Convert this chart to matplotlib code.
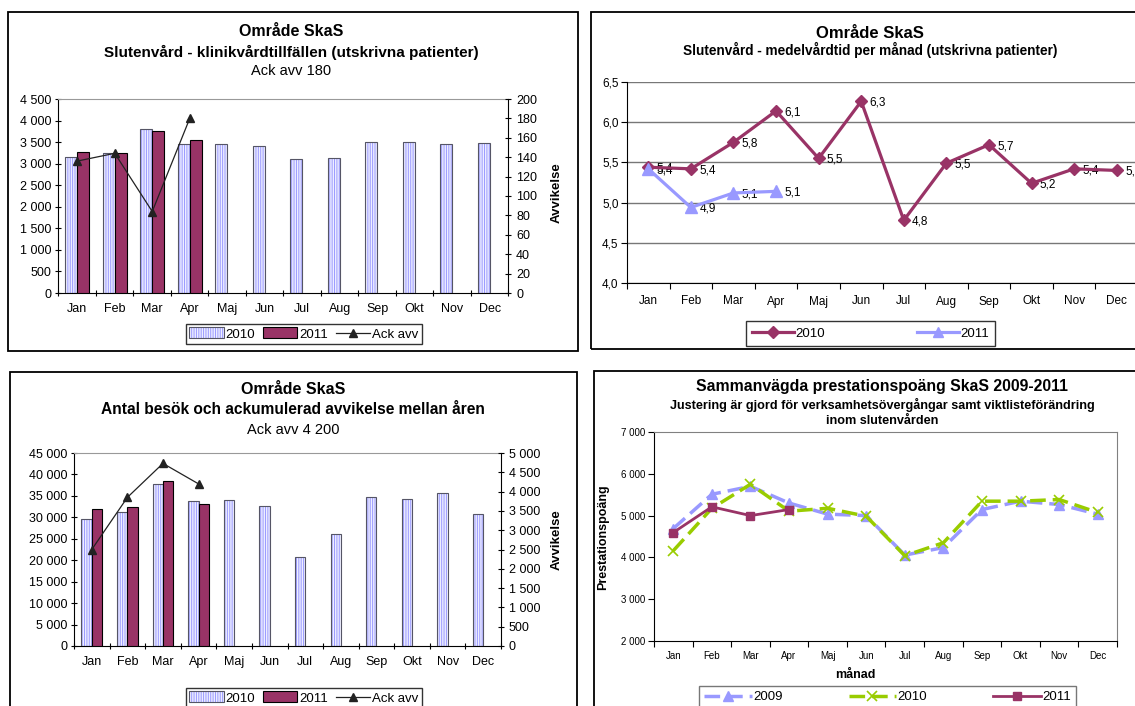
import numpy as np
import matplotlib
matplotlib.use("Agg")
import matplotlib.pyplot as plt
from matplotlib.patches import Patch, Rectangle
from matplotlib.lines import Line2D
from matplotlib.legend_handler import HandlerTuple

plt.rcParams['font.family'] = ['Liberation Sans', 'DejaVu Sans']
plt.rcParams['hatch.linewidth'] = 0.7

months = ["Jan", "Feb", "Mar", "Apr", "Maj", "Jun", "Jul", "Aug", "Sep", "Okt", "Nov", "Dec"]

# Klinikvårdtillfällen (utskrivna patienter)
vt_2010 = [3145, 3250, 3815, 3445, 3445, 3400, 3105, 3120, 3505, 3505, 3460, 3480]
vt_2011 = [3275, 3250, 3755, 3545]
vt_ack = [136, 144, 84, 180]

# Medelvårdtid per månad
mvt_2010 = [5.44, 5.42, 5.75, 6.14, 5.55, 6.26, 4.78, 5.49, 5.72, 5.24, 5.42, 5.40]
mvt_2011 = [5.42, 4.94, 5.12, 5.14]

# Antal besök
bes_2010 = [29650, 31250, 37800, 33750, 33950, 32650, 20850, 26150, 34700, 34250, 35750, 30800]
bes_2011 = [32000, 32500, 38550, 33050]
bes_ack = [2500, 3850, 4730, 4200]

# Sammanvägda prestationspoäng
pp_2009 = [4690, 5510, 5700, 5300, 5035, 5000, 4055, 4235, 5145, 5345, 5265, 5035]
pp_2010 = [4160, 5175, 5750, 5105, 5175, 4985, 4040, 4350, 5345, 5345, 5385, 5075]
pp_2011 = [4595, 5210, 5000, 5145]

W, H = 1135, 706
LAV = "#9999FF"
BARFACE = "#EEEEFF"
MAR = "#993366"
GRN = "#99CC00"
HATCH = "|||||||"

fig = plt.figure(figsize=(W / 100, H / 100), dpi=100)
fig.patch.set_facecolor("white")


def ax_px(l, t, r, b):
    return fig.add_axes([l / W, 1 - b / H, (r - l) / W, (b - t) / H])


def ftext(x, y, s, **kw):
    kw.setdefault("ha", "center")
    kw.setdefault("va", "center")
    fig.text(x / W, 1 - y / H, s, **kw)


def frame(l, t, r, b):
    fig.add_artist(Rectangle((l / W, 1 - b / H), (r - l) / W, (b - t) / H,
                             transform=fig.transFigure, fill=False,
                             edgecolor="black", lw=1.3))


def space_thousands(v):
    return f"{v:,.0f}".replace(",", " ")


def setup_cat_axis(ax, fs, pad, tick_dir="out"):
    x = np.arange(len(months))
    ax.set_xlim(-0.5, len(months) - 0.5)
    ax.set_xticks(x, months)
    ax.tick_params(axis="x", which="major", length=0, pad=pad, labelsize=fs)
    ax.set_xticks(np.arange(-0.5, len(months), 1), minor=True)
    ax.tick_params(axis="x", which="minor", length=4, direction=tick_dir, width=0.8)


def bar_panel(ax, v2010, v2011, ack, width, ymax, ystep, rmax, rstep, fs):
    x = np.arange(len(months))
    x11 = np.arange(len(v2011))
    ax.bar(x - width / 2, v2010, width, facecolor=BARFACE, edgecolor=LAV,
           hatch=HATCH, linewidth=0, zorder=2)
    ax.bar(x - width / 2, v2010, width, fill=False, edgecolor="#555566",
           linewidth=0.8, zorder=3)
    ax.bar(x11 + width / 2, v2011, width, color=MAR, edgecolor="black",
           linewidth=0.8, zorder=3)
    ax.set_ylim(0, ymax)
    yt = np.arange(0, ymax + 1, ystep)
    ax.set_yticks(yt, [space_thousands(v) for v in yt])
    ax.tick_params(axis="y", length=4, direction="inout", labelsize=fs, pad=3, width=0.8)
    for s in ("left", "bottom"):
        ax.spines[s].set_color("black")
    ax.spines["top"].set_color("#999999")
    ax.spines["right"].set_visible(False)
    setup_cat_axis(ax, fs, 7, tick_dir="inout")

    axr = ax.twinx()
    axr.set_ylim(0, rmax)
    rt = np.arange(0, rmax + 1, rstep)
    axr.set_yticks(rt, [space_thousands(v) for v in rt])
    axr.tick_params(axis="y", length=5, direction="inout", labelsize=fs, pad=3, width=0.8)
    for s in ("left", "top", "bottom"):
        axr.spines[s].set_visible(False)
    axr.spines["right"].set_color("black")
    axr.plot(x11, ack, color="#222222", lw=0.9, marker="^", ms=6, mfc="#222222",
             mec="#222222", zorder=5)
    return axr


def bar_legend(cx, cy):
    h10 = (Patch(facecolor=BARFACE, edgecolor=LAV, hatch=HATCH, lw=0),
           Patch(fill=False, edgecolor="#555566", lw=0.8))
    h11 = Patch(facecolor=MAR, edgecolor="black", lw=0.8)
    hack = Line2D([], [], color="#222222", lw=0.9, marker="^", ms=6)
    leg = fig.legend([h10, h11, hack], ["2010", "2011", "Ack avv"], loc="center",
                     bbox_to_anchor=(cx / W, 1 - cy / H), ncol=3, frameon=True,
                     fancybox=False, edgecolor="black", fontsize=9.5,
                     handlelength=2.6, handleheight=0.9, handletextpad=0.15,
                     columnspacing=0.6, borderpad=0.25,
                     handler_map={tuple: HandlerTuple(ndivide=1)})
    leg.get_frame().set_linewidth(1.0)


# ---- Panel 1: klinikvårdtillfällen ----
frame(8, 12, 578, 351)
ftext(291, 32, "Område SkaS", fontsize=11.5, fontweight="bold")
ftext(291, 52, "Slutenvård - klinikvårdtillfällen (utskrivna patienter)", fontsize=11, fontweight="bold")
ftext(291, 71, "Ack avv 180", fontsize=10.5)
ax1 = ax_px(58.5, 99, 508.5, 293)
bar_panel(ax1, vt_2010, vt_2011, vt_ack, 0.32, 4500, 500, 200, 20, 9)
ftext(557, 193, "Avvikelse", fontsize=9.5, fontweight="bold", rotation=90)
bar_legend(304, 334)

# ---- Panel 3: antal besök ----
frame(10, 372, 577, 720)
ftext(293, 390, "Område SkaS", fontsize=11.5, fontweight="bold")
ftext(293, 410, "Antal besök och ackumulerad avvikelse mellan åren", fontsize=11.2, fontweight="bold")
ftext(293, 430, "Ack avv 4 200", fontsize=10.5)
ax3 = ax_px(74, 453, 501, 646)
bar_panel(ax3, bes_2010, bes_2011, bes_ack, 0.29, 45000, 5000, 5000, 500, 9)
ftext(557, 540, "Avvikelse", fontsize=9.5, fontweight="bold", rotation=90)
bar_legend(304, 698)

# ---- Panel 2: medelvårdtid ----
frame(591, 12, 1140, 349)
ftext(870, 33, "Område SkaS", fontsize=12, fontweight="bold")
ftext(870, 50, "Slutenvård - medelvårdtid per månad (utskrivna patienter)", fontsize=9.8, fontweight="bold")
ax2 = ax_px(627, 82, 1138, 283)
x = np.arange(len(months))
ax2.set_ylim(4.0, 6.5)
yt2 = np.arange(4.0, 6.51, 0.5)
ax2.set_yticks(yt2, [f"{v:.1f}".replace(".", ",") for v in yt2])
ax2.tick_params(axis="y", length=4, direction="out", labelsize=8.5, pad=2, width=0.8)
ax2.grid(axis="y", color="#777777", lw=1.0)
ax2.set_axisbelow(True)
for s in ("top", "right"):
    ax2.spines[s].set_visible(False)
setup_cat_axis(ax2, 8.5, 9)
ax2.plot(x, mvt_2010, color=MAR, lw=2.3, marker="D", ms=6.5, mfc=MAR, mec=MAR,
         clip_on=False, zorder=4)
ax2.plot(np.arange(len(mvt_2011)), mvt_2011, color=LAV, lw=2.3, marker="^", ms=8,
         mfc=LAV, mec=LAV, clip_on=False, zorder=4)
for series in (mvt_2010, mvt_2011):
    for i, v in enumerate(series):
        ax2.annotate(f"{v:.1f}".replace(".", ","), (i, v), xytext=(6, -1),
                     textcoords="offset points", va="center", ha="left",
                     fontsize=8.5, annotation_clip=False)
leg2 = fig.legend([Line2D([], [], color=MAR, lw=2.3, marker="D", ms=6),
                   Line2D([], [], color=LAV, lw=2.3, marker="^", ms=7)],
                  ["2010", "2011"], loc="center", bbox_to_anchor=(870.5 / W, 1 - 333.5 / H),
                  ncol=2, frameon=True, fancybox=False, edgecolor="black", fontsize=9.5,
                  handlelength=3.2, handletextpad=0.1, columnspacing=7.0, borderpad=0.45)
leg2.get_frame().set_linewidth(1.0)

# ---- Panel 4: prestationspoäng ----
frame(594, 371, 1140, 720)
ftext(882, 387, "Sammanvägda prestationspoäng SkaS 2009-2011", fontsize=11.4, fontweight="bold")
ftext(882, 405, "Justering är gjord för verksamhetsövergångar samt viktlisteförändring", fontsize=9.1, fontweight="bold")
ftext(882, 421, "inom slutenvården", fontsize=9.1, fontweight="bold")
ax4 = ax_px(654, 432, 1117, 641)
ax4.set_ylim(2000, 7000)
yt4 = np.arange(2000, 7001, 1000)
ax4.set_yticks(yt4, [space_thousands(v) for v in yt4])
ax4.tick_params(axis="y", length=4, direction="out", labelsize=7, pad=2, width=0.8)
ax4.spines["top"].set_color("#808080")
ax4.spines["right"].set_color("#808080")
setup_cat_axis(ax4, 7, 7)
ax4.plot(x, pp_2009, color=LAV, lw=2.5, dashes=(4.5, 2), marker="^", ms=7,
         mfc=LAV, mec=LAV, zorder=3)
ax4.plot(x, pp_2010, color=GRN, lw=2.5, dashes=(4.5, 2), marker="x", ms=7,
         mew=1.2, mfc=GRN, mec=GRN, zorder=4)
ax4.plot(np.arange(len(pp_2011)), pp_2011, color=MAR, lw=2, marker="s", ms=6,
         mfc=MAR, mec=MAR, zorder=5)
ftext(603, 537, "Prestationspoäng", fontsize=9, fontweight="bold", rotation=90)
ftext(855, 675, "månad", fontsize=9, fontweight="bold")
leg4 = fig.legend([Line2D([], [], color=LAV, lw=2.5, dashes=(4.5, 2), marker="^", ms=7),
                   Line2D([], [], color=GRN, lw=2.5, dashes=(4.5, 2), marker="x", ms=7, mew=1.2),
                   Line2D([], [], color=MAR, lw=2, marker="s", ms=6)],
                  ["2009", "2010", "2011"], loc="center", bbox_to_anchor=(887.5 / W, 1 - 697 / H),
                  ncol=3, frameon=True, fancybox=False, edgecolor="#555555", fontsize=9.5,
                  handlelength=3.6, handletextpad=0.1, columnspacing=5.0, borderpad=0.4)
leg4.get_frame().set_linewidth(1.0)

fig.savefig("out.png", dpi=100)
